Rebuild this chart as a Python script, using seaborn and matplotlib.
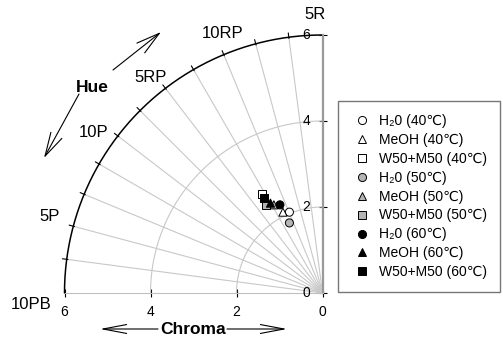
import matplotlib
matplotlib.use("Agg")
import matplotlib.pyplot as plt
import numpy as np
import pandas as pd
import seaborn as sns

# Munsell hue labels, where they sit (degrees from the 10PB axis) and how far out
hue_names = ["10PB", "5P", "10P", "5RP", "10RP", "5R"]
hue_label_angles = [-2.2, 15.6, 35.0, 51.4, 69.0, 88.5]
hue_label_radius = [6.77, 6.58, 6.51, 6.42, 6.47, 6.47]

chroma_ticks = [0, 2, 4, 6]

# chroma components (horizontal, vertical)
series = [
    "H\u20820 (40\u2103)", "MeOH (40\u2103)", "W50+M50 (40\u2103)",
    "H\u20820 (50\u2103)", "MeOH (50\u2103)", "W50+M50 (50\u2103)",
    "H\u20820 (60\u2103)", "MeOH (60\u2103)", "W50+M50 (60\u2103)",
]
x_comp = [0.77, 0.92, 1.41, 0.77, 1.13, 1.31, 0.99, 1.21, 1.37]
y_comp = [1.88, 1.88, 2.30, 1.63, 2.05, 2.05, 2.05, 2.09, 2.21]
marker_shapes = ["o", "^", "s"] * 3
fill_colors = ["white"] * 3 + ["#b4b4b4"] * 3 + ["black"] * 3

df = pd.DataFrame({"label": series, "x": x_comp, "y": y_comp})

sns.set_style("white")
plt.rcParams["font.family"] = ["Liberation Sans", "DejaVu Sans"]
plt.rcParams["text.color"] = "black"
plt.rcParams["xtick.color"] = "black"
plt.rcParams["ytick.color"] = "black"

fig = plt.figure(figsize=(5.03, 3.38), dpi=100)
ax = fig.add_axes([64.5 / 503, 45 / 338, 258 / 503, 258 / 338])

# grid: chroma arcs and hue spokes
th = np.radians(np.linspace(0, 90, 200))
for r in [2, 4]:
    ax.plot(r * np.cos(th), r * np.sin(th), color="#c8c8c8", lw=0.8, zorder=1)
ax.plot(6 * np.cos(th), 6 * np.sin(th), color="black", lw=1.1, zorder=2, clip_on=False)
for a in np.arange(7.5, 90, 7.5):
    t = np.radians(a)
    ax.plot([0, 6 * np.cos(t)], [0, 6 * np.sin(t)], color="#c8c8c8", lw=0.8, zorder=1)
    ax.plot([5.97 * np.cos(t), 6.1 * np.cos(t)], [5.97 * np.sin(t), 6.1 * np.sin(t)],
            color="black", lw=0.8, clip_on=False, zorder=2)

for name, a, r in zip(hue_names, hue_label_angles, hue_label_radius):
    t = np.radians(a)
    ax.text(r * np.cos(t), r * np.sin(t), name, fontsize=12, ha="center", va="center")

sns.scatterplot(data=df, x="x", y="y", hue="label", style="label",
                palette=dict(zip(series, fill_colors)),
                markers=dict(zip(series, marker_shapes)),
                s=34, edgecolor="black", linewidth=0.7, ax=ax, zorder=3, clip_on=False)

ax.set_xlim(6, 0)
ax.set_ylim(0, 6)
ax.set_aspect("equal")
ax.set_xlabel("")
ax.set_ylabel("")

# axes
for s in ["top", "left"]:
    ax.spines[s].set_visible(False)
ax.spines["bottom"].set_color("#c0c0c0")
ax.spines["right"].set_color("#9a9a9a")
ax.spines["right"].set_linewidth(1.6)
ax.yaxis.tick_right()
ax.set_xticks(chroma_ticks)
ax.set_yticks(chroma_ticks)
ax.tick_params(axis="x", direction="inout", length=6, width=0.8, color="black",
               labelsize=10, pad=6, bottom=True)
ax.tick_params(axis="y", direction="inout", length=6, width=0.8, color="black",
               labelright=False, right=True)
for v in chroma_ticks:
    ax.text(0.38, v, str(v), fontsize=10, ha="center", va="center")

handles, labels = ax.get_legend_handles_labels()
ax.legend(handles, labels, loc="upper left", bbox_to_anchor=(338 / 503, 1 - 101 / 338),
          bbox_transform=fig.transFigure, frameon=True, fancybox=False, fontsize=10,
          labelspacing=0.35, handletextpad=0.5, borderpad=0.95, handlelength=1.5,
          borderaxespad=0, edgecolor="#555555")
ax.get_legend().get_frame().set_linewidth(1.0)

# direction arrows and axis titles
arrow_kw = dict(xycoords="figure pixels", textcoords="figure pixels")
def arrow(tail, tip, hw):
    ax.annotate("", xy=(tip[0], 338 - tip[1]), xytext=(tail[0], 338 - tail[1]),
                arrowprops=dict(arrowstyle=f"->,head_length=1.7,head_width={hw}",
                                lw=0.8, color="black", shrinkA=0, shrinkB=0,
                                mutation_scale=10), **arrow_kw)

arrow((113, 70), (161, 32), 0.45)
arrow((79, 94), (44, 158), 0.45)
arrow((158, 329), (100, 329), 0.32)
arrow((227, 329), (287, 329), 0.32)
fig.text(92 / 503, 1 - 87 / 338, "Hue", fontsize=12.5, fontweight="bold", ha="center", va="center")
fig.text(193 / 503, 1 - 329 / 338, "Chroma", fontsize=12.5, fontweight="bold", ha="center", va="center")

fig.savefig("out.png", dpi=100)
